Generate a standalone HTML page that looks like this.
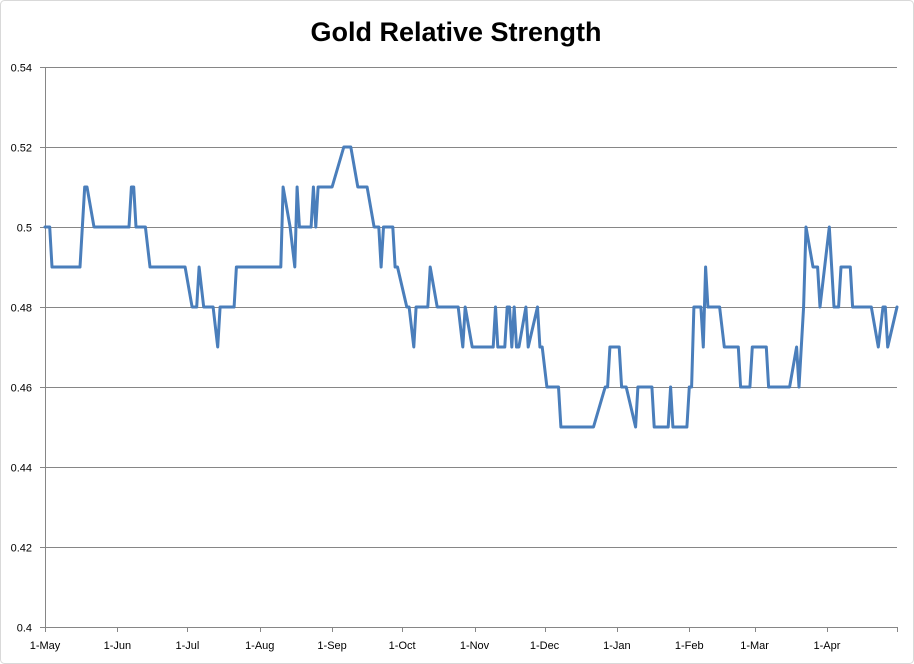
<!DOCTYPE html>
<html><head><meta charset="utf-8"><style>
body{margin:0;background:#fff;}
svg{display:block;font-family:"Liberation Sans",sans-serif;}
</style></head><body>
<svg id="chart" width="914" height="664">
<rect x="0.5" y="0.5" width="913" height="663" rx="4" fill="#fff" stroke="#d9d9d9"/>
<text x="456" y="41" text-anchor="middle" font-size="27" font-weight="bold" fill="#000">Gold Relative Strength</text>
<g id="grid"></g><g id="axes"></g><g id="series"></g>
</svg>
<script>
const days=[0,2,3,15,17,18,21,36,37,38,39,43,45,60,63,65,66,68,72,74,75,81,82,101,102,105,107,108,109,114,115,116,117,123,128,131,134,138,141,143,144,145,149,150,151,155,156,158,159,164,165,168,177,179,180,183,192,193,194,197,198,199,200,201,202,203,206,207,211,212,213,215,220,221,235,240,241,242,246,247,249,253,254,260,261,267,268,269,275,276,277,278,281,282,283,284,289,291,297,298,302,303,309,310,319,322,323,325,326,329,331,332,336,338,340,341,345,346,354,357,359,360,361,365];
const values=[0.50,0.50,0.49,0.49,0.51,0.51,0.50,0.50,0.51,0.51,0.50,0.50,0.49,0.49,0.48,0.48,0.49,0.48,0.48,0.47,0.48,0.48,0.49,0.49,0.51,0.50,0.49,0.51,0.50,0.50,0.51,0.50,0.51,0.51,0.52,0.52,0.51,0.51,0.50,0.50,0.49,0.50,0.50,0.49,0.49,0.48,0.48,0.47,0.48,0.48,0.49,0.48,0.48,0.47,0.48,0.47,0.47,0.48,0.47,0.47,0.48,0.48,0.47,0.48,0.47,0.47,0.48,0.47,0.48,0.47,0.47,0.46,0.46,0.45,0.45,0.46,0.46,0.47,0.47,0.46,0.46,0.45,0.46,0.46,0.45,0.45,0.46,0.45,0.45,0.46,0.46,0.48,0.48,0.47,0.49,0.48,0.48,0.47,0.47,0.46,0.46,0.47,0.47,0.46,0.46,0.47,0.46,0.48,0.50,0.49,0.49,0.48,0.50,0.48,0.48,0.49,0.49,0.48,0.48,0.47,0.48,0.48,0.47,0.48];
const monthLabels=["1-May","1-Jun","1-Jul","1-Aug","1-Sep","1-Oct","1-Nov","1-Dec","1-Jan","1-Feb","1-Mar","1-Apr"];
const monthDays=[0,31,61,92,123,153,184,214,245,276,304,335];
const yTicks=[0.4,0.42,0.44,0.46,0.48,0.5,0.52,0.54];
const X0=45,X1=897,Y0=627,Y1=67,DMAX=365;
const sx=d=>X0+(d/DMAX)*(X1-X0);
const sy=v=>Y0-(v-0.4)/(0.54-0.4)*(Y0-Y1);
const NS="http://www.w3.org/2000/svg";
function mk(tag,attrs,parent){const e=document.createElementNS(NS,tag);for(const k in attrs)e.setAttribute(k,attrs[k]);parent.appendChild(e);return e;}
const grid=document.getElementById('grid'),axes=document.getElementById('axes'),series=document.getElementById('series');
yTicks.forEach(v=>{
  const y=Math.round(sy(v))+0.5;
  if(v>0.4){const g=mk('line',{x1:X0,x2:X1,y1:y,y2:y,stroke:'#868686','stroke-width':1},grid);
  
  }
  const tk=mk('line',{x1:X0-5,x2:X0,y1:y,y2:y,stroke:'#868686'},axes);
  
  
  const t=mk('text',{x:X0-13,y:y+4,'text-anchor':'end','font-size':11,fill:'#000'},axes);
  t.textContent=(v===0.4?'0.4':v===0.5?'0.5':v.toFixed(2));
  
  
});
const ya=mk('line',{x1:X0+0.5,x2:X0+0.5,y1:Y1,y2:Y0,stroke:'#868686'},axes);


const xa=mk('line',{x1:X0,x2:X1,y1:Y0+0.5,y2:Y0+0.5,stroke:'#868686'},axes);


monthDays.concat([DMAX]).forEach(d=>{
  const x=Math.round(sx(d))+0.5;
  const tk=mk('line',{x1:x,x2:x,y1:Y0,y2:Y0+5,stroke:'#868686'},axes);
  
  
});
monthLabels.forEach((m,i)=>{
  const t=mk('text',{x:sx(monthDays[i]),y:Y0+22,'text-anchor':'middle','font-size':11,fill:'#000'},axes);
  t.textContent=m;
  
  
});
const pts=days.map((d,i)=>sx(d).toFixed(1)+','+sy(values[i]).toFixed(1)).join(' ');
const pl=mk('polyline',{points:pts,fill:'none',stroke:'#4a7ebb','stroke-width':3,'stroke-linejoin':'round','stroke-linecap':'round'},series);


</script>
</body></html>
